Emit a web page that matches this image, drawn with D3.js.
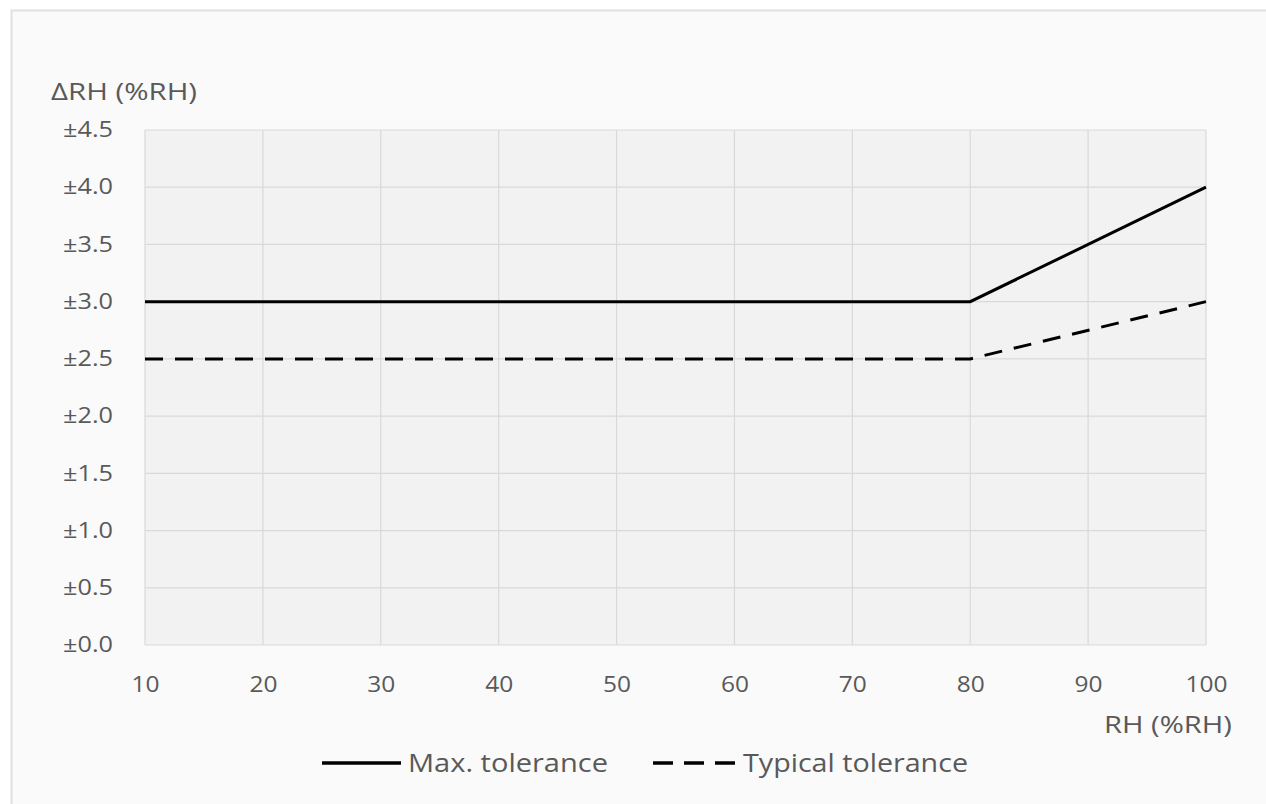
<!DOCTYPE html>
<html><head><meta charset="utf-8">
<script src="https://cdn.jsdelivr.net/npm/d3@7"></script>
<style>
html,body{margin:0;padding:0;background:#fff;}
text{font-family:"Open Sans","Noto Sans",sans-serif;}
</style></head>
<body><svg id="c" width="1266" height="804"></svg>
<script>
const xValues = [10, 80, 100];
const maxTolerance = [3.0, 3.0, 4.0];
const typicalTolerance = [2.5, 2.5, 3.0];
const xTicks = [10, 20, 30, 40, 50, 60, 70, 80, 90, 100];
const yTicks = [0, 0.5, 1.0, 1.5, 2.0, 2.5, 3.0, 3.5, 4.0, 4.5];
const seriesNames = ["Max. tolerance", "Typical tolerance"];

const FONT = "'Open Sans','Noto Sans',sans-serif";
const svg = d3.select("#c");
svg.append("rect").attr("x", 11.5).attr("y", 10.5).attr("width", 1266).attr("height", 804)
  .attr("fill", "#fafafa").attr("stroke", "#e0e0e0").attr("stroke-width", 2);

const L = 145, R = 1206, T = 130, B = 645;
const x = d3.scaleLinear().domain([10, 100]).range([L, R]);
const y = d3.scaleLinear().domain([0, 4.5]).range([B, T]);

svg.append("rect").attr("x", L).attr("y", T).attr("width", R - L).attr("height", B - T).attr("fill", "#f2f2f2");

const grid = svg.append("g");
grid.selectAll("line.v").data(xTicks).join("line")
  .attr("x1", d => x(d)).attr("x2", d => x(d)).attr("y1", T).attr("y2", B)
  .attr("stroke", "#d9d9d9").attr("stroke-width", 1.2);
grid.selectAll("line.h").data(yTicks).join("line")
  .attr("x1", L).attr("x2", R).attr("y1", d => y(d)).attr("y2", d => y(d))
  .attr("stroke", "#d9d9d9").attr("stroke-width", 1.2);

const xAxis = svg.append("g").attr("transform", `translate(0,${B})`)
  .call(d3.axisBottom(x).tickValues(xTicks).tickSize(0).tickPadding(31).tickFormat(d3.format("d")));
xAxis.select(".domain").remove();
xAxis.selectAll("text").attr("font-size", 22).attr("fill", "#595959").attr("font-family", FONT)
  .attr("textLength", d => String(d).length * 14).attr("lengthAdjust", "spacingAndGlyphs");

const yAxis = svg.append("g").attr("transform", `translate(${L},0)`)
  .call(d3.axisLeft(y).tickValues(yTicks).tickSize(0).tickPadding(32).tickFormat(d => "±" + d3.format(".1f")(d)));
yAxis.select(".domain").remove();
yAxis.selectAll("text").attr("font-size", 21).attr("fill", "#595959").attr("font-family", FONT)
  .attr("textLength", 50).attr("lengthAdjust", "spacingAndGlyphs");

svg.append("text").attr("x", 51).attr("y", 100).attr("font-size", 23).attr("fill", "#595959")
  .attr("textLength", 146).attr("lengthAdjust", "spacingAndGlyphs").text("ΔRH (%RH)");
svg.append("text").attr("x", 1232).attr("y", 733).attr("text-anchor", "end").attr("font-size", 23).attr("fill", "#595959")
  .attr("textLength", 128).attr("lengthAdjust", "spacingAndGlyphs").text("RH (%RH)");

const line = d3.line().x(d => x(d[0])).y(d => y(d[1]));
const series = [maxTolerance, typicalTolerance];
const dashes = [null, "18,12"];
series.forEach((s, i) => {
  svg.append("path").datum(xValues.map((v, j) => [v, s[j]]))
    .attr("d", line).attr("fill", "none").attr("stroke", "#000").attr("stroke-width", 3)
    .attr("stroke-dasharray", dashes[i]);
});

const leg = [{x0: 322, x1: 401, tx: 408, w: 200}, {x0: 653, x1: 735, tx: 743, w: 225}];
seriesNames.forEach((n, i) => {
  svg.append("line").attr("x1", leg[i].x0).attr("x2", leg[i].x1).attr("y1", 763).attr("y2", 763)
    .attr("stroke", "#000").attr("stroke-width", 3.5).attr("stroke-dasharray", i ? "20,11" : null);
  svg.append("text").attr("x", leg[i].tx).attr("y", 772).attr("font-size", 25).attr("fill", "#595959")
    .attr("textLength", leg[i].w).attr("lengthAdjust", "spacingAndGlyphs").text(n);
});
</script></body></html>
